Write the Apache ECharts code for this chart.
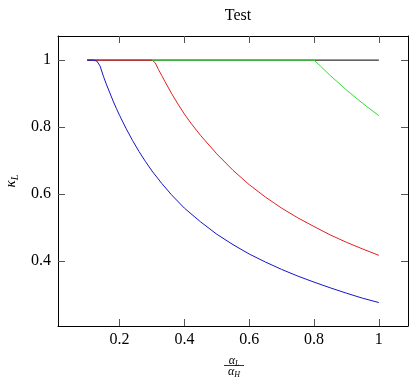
<!DOCTYPE html>
<html>
<head>
<meta charset="utf-8">
<script src="https://cdn.jsdelivr.net/npm/echarts@6/dist/echarts.min.js"></script>
<style>html,body{margin:0;padding:0;background:#fff}#c{width:410px;height:385px}</style>
</head>
<body>
<div id="c"></div>
<script>
// ---- data ----
const xTicks = [0.2, 0.4, 0.6, 0.8, 1];
const yTicks = [0.4, 0.6, 0.8, 1];

const blackX = [0.1, 1.0];
const blackY = [1, 1];

const redX = [0.1, 0.2, 0.3, 0.31, 0.32, 0.33, 0.34, 0.36, 0.38, 0.4, 0.42, 0.45, 0.5, 0.55, 0.6, 0.65, 0.7, 0.75, 0.8, 0.85, 0.9, 0.95, 1.0];
const redY = [1, 1, 1, 0.992, 0.972, 0.954, 0.936, 0.901, 0.869, 0.839, 0.812, 0.775, 0.72, 0.671, 0.628, 0.591, 0.558, 0.529, 0.503, 0.478, 0.456, 0.436, 0.417];

const greenX = [0.3, 0.5, 0.8, 0.82, 0.85, 0.9, 0.95, 1.0];
const greenY = [1, 1, 1, 0.982, 0.954, 0.911, 0.871, 0.834];

const blueX = [0.1, 0.12, 0.13, 0.14, 0.15, 0.16, 0.17, 0.18, 0.19, 0.2, 0.22, 0.24, 0.26, 0.28, 0.3, 0.33, 0.36, 0.4, 0.45, 0.5, 0.55, 0.6, 0.65, 0.7, 0.75, 0.8, 0.85, 0.9, 0.95, 1.0];
const blueY = [1, 1, 0.997, 0.982, 0.952, 0.926, 0.902, 0.878, 0.856, 0.835, 0.796, 0.76, 0.727, 0.697, 0.669, 0.632, 0.598, 0.558, 0.517, 0.48, 0.449, 0.421, 0.397, 0.375, 0.355, 0.337, 0.32, 0.304, 0.289, 0.276];

const pairs = (xs, ys) => xs.map((x, i) => [x, ys[i]]);

const FONT = '"Liberation Serif", "DejaVu Serif", serif';
const chart = echarts.init(document.getElementById('c'), null, {renderer: 'canvas'});

function xAx(pos, labels) {
  return {
    type: 'value', position: pos, min: 0.01, max: 1.09,
    axisLine: {show: true, onZero: false, lineStyle: {color: '#000', width: 1}},
    axisTick: {show: true, inside: true, length: 7, customValues: xTicks, lineStyle: {color: '#555', width: 1}},
    axisLabel: {show: labels, customValues: xTicks, fontFamily: FONT, fontSize: 16, color: '#000', margin: 6},
    splitLine: {show: false}
  };
}
function yAx(pos, labels) {
  return {
    type: 'value', position: pos, min: 0.206, max: 1.072,
    axisLine: {show: true, onZero: false, lineStyle: {color: '#000', width: 1}},
    axisTick: {show: true, inside: true, length: 7, customValues: yTicks, lineStyle: {color: '#555', width: 1}},
    axisLabel: {show: labels, customValues: yTicks, fontFamily: FONT, fontSize: 16, color: '#000', margin: 7},
    splitLine: {show: false}
  };
}

const yA = yAx('left', true);
yA.name = '{k|κ}{s|L}';
yA.nameLocation = 'middle';
yA.nameGap = 37;
yA.nameRotate = 90;
yA.nameTextStyle = {
  rich: {
    k: {fontFamily: FONT, fontStyle: 'italic', fontSize: 15, color: '#000'},
    s: {fontFamily: FONT, fontStyle: 'italic', fontSize: 10, color: '#000', padding: [8, 0, 0, 0]}
  }
};

function line(xs, ys, color) {
  return {
    type: 'line', data: pairs(xs, ys), showSymbol: false, symbol: 'none',
    lineStyle: {color: color, width: 1}, itemStyle: {color: color},
    xAxisIndex: 0, yAxisIndex: 0, animation: false, silent: true
  };
}

chart.setOption({
  animation: false,
  backgroundColor: '#fff',
  title: {
    text: 'Test', left: 233, top: 3, textAlign: 'center',
    textStyle: {fontFamily: FONT, fontSize: 16, fontWeight: 'normal', color: '#000'}
  },
  grid: {left: 58, right: 2, top: 36, bottom: 59, containLabel: false, outerBoundsMode: 'none'},
  xAxis: [xAx('bottom', true), xAx('top', false)],
  yAxis: [yA, yAx('right', false)],
  series: [
    line(blackX, blackY, '#000000'),
    line(redX, redY, '#e02020'),
    line(greenX, greenY, '#30dd30'),
    line(blueX, blueY, '#1515c8')
  ],
  graphic: [
    {
      type: 'group', x: 234, y: 0,
      children: [
        {type: 'text', x: 0, y: 361, style: {
          text: '{a|α}{b|L}', align: 'center', verticalAlign: 'middle',
          rich: {a: {fontFamily: FONT, fontStyle: 'italic', fontSize: 12, color: '#000'},
                 b: {fontFamily: FONT, fontStyle: 'italic', fontSize: 8, color: '#000', padding: [5, 0, 0, 0]}}
        }},
        {type: 'line', shape: {x1: -10, y1: 365.5, x2: 10, y2: 365.5}, style: {stroke: '#000', lineWidth: 0.8}},
        {type: 'text', x: 0, y: 372, style: {
          text: '{a|α}{b|H}', align: 'center', verticalAlign: 'middle',
          rich: {a: {fontFamily: FONT, fontStyle: 'italic', fontSize: 12, color: '#000'},
                 b: {fontFamily: FONT, fontStyle: 'italic', fontSize: 8, color: '#000', padding: [5, 0, 0, 0]}}
        }}
      ]
    }
  ]
});
</script>
</body>
</html>
